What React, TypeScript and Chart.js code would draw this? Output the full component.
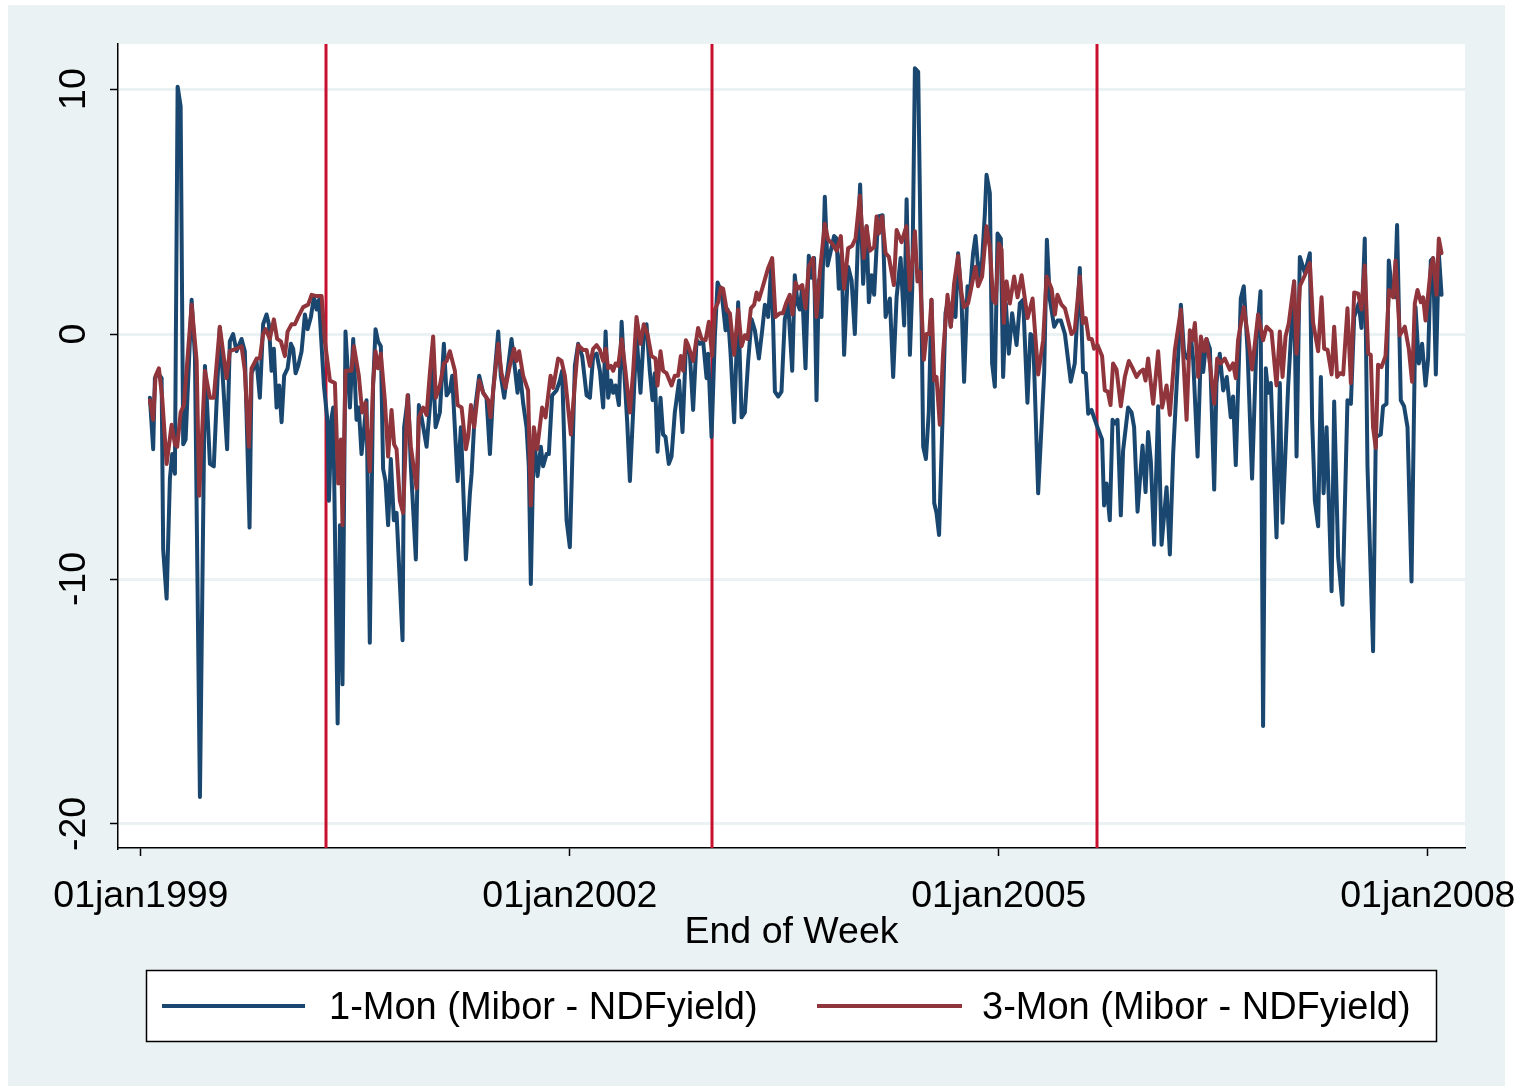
import React, { useEffect, useRef } from 'react';
import { Chart, registerables } from 'chart.js';

Chart.register(...registerables);

// ---------- data (weekly spreads, dates as decimal years) ----------
const tickYears = [1999, 2002, 2005, 2008];
const tickLabels = ['01jan1999', '01jan2002', '01jan2005', '01jan2008'];
const yTicks = [-20, -10, 0, 10];
const breakDates = [2000.294, 2002.993, 2005.685];
const seriesNames = ['1-Mon (Mibor - NDFyield)', '3-Mon (Mibor - NDFyield)'];
const axisTitle = 'End of Week';

const oneMonDates = [
  1999.063, 1999.086, 1999.098, 1999.121, 1999.145, 1999.156, 1999.180, 1999.203, 1999.219, 1999.238,
  1999.257, 1999.278, 1999.296, 1999.313, 1999.355, 1999.378, 1999.413, 1999.448, 1999.459, 1999.483,
  1999.510, 1999.552, 1999.603, 1999.622, 1999.645, 1999.669, 1999.704, 1999.727, 1999.760, 1999.774,
  1999.809, 1999.832, 1999.855, 1999.879, 1999.895, 1999.914, 1999.930, 1999.949, 1999.967, 1999.984,
  2000.002, 2000.026, 2000.049, 2000.065, 2000.082, 2000.100, 2000.124, 2000.147, 2000.166, 2000.189,
  2000.210, 2000.229, 2000.245, 2000.280, 2000.306, 2000.315, 2000.334, 2000.345, 2000.376, 2000.392,
  2000.410, 2000.431, 2000.462, 2000.485, 2000.508, 2000.524, 2000.543, 2000.562, 2000.578, 2000.601,
  2000.624, 2000.641, 2000.659, 2000.678, 2000.694, 2000.711, 2000.729, 2000.748, 2000.769, 2000.788,
  2000.830, 2000.841, 2000.869, 2000.888, 2000.923, 2000.944, 2000.963, 2000.998, 2001.044, 2001.061,
  2001.091, 2001.119, 2001.138, 2001.161, 2001.177, 2001.215, 2001.238, 2001.273, 2001.301, 2001.313,
  2001.336, 2001.366, 2001.394, 2001.417, 2001.441, 2001.464, 2001.499, 2001.517, 2001.541, 2001.569,
  2001.592, 2001.610, 2001.634, 2001.650, 2001.673, 2001.697, 2001.713, 2001.727, 2001.748, 2001.774,
  2001.797, 2001.813, 2001.837, 2001.853, 2001.876, 2001.907, 2001.930, 2001.946, 2001.977, 2002.000,
  2002.035, 2002.058, 2002.086, 2002.117, 2002.140, 2002.163, 2002.187, 2002.210, 2002.233, 2002.250,
  2002.268, 2002.287, 2002.303, 2002.320, 2002.343, 2002.362, 2002.385, 2002.401, 2002.420, 2002.443,
  2002.466, 2002.494, 2002.517, 2002.536, 2002.559, 2002.578, 2002.594, 2002.613, 2002.634, 2002.652,
  2002.669, 2002.692, 2002.711, 2002.734, 2002.764, 2002.788, 2002.811, 2002.839, 2002.862, 2002.886,
  2002.909, 2002.932, 2002.956, 2002.967, 2002.991, 2003.014, 2003.033, 2003.061, 2003.089, 2003.103,
  2003.124, 2003.149, 2003.177, 2003.201, 2003.224, 2003.247, 2003.271, 2003.294, 2003.322, 2003.345,
  2003.364, 2003.387, 2003.410, 2003.434, 2003.457, 2003.480, 2003.503, 2003.527, 2003.555, 2003.573,
  2003.592, 2003.608, 2003.624, 2003.648, 2003.671, 2003.690, 2003.708, 2003.725, 2003.741, 2003.760,
  2003.783, 2003.802, 2003.825, 2003.848, 2003.865, 2003.881, 2003.900, 2003.918, 2003.946, 2003.970,
  2003.993, 2004.016, 2004.030, 2004.051, 2004.075, 2004.091, 2004.110, 2004.128, 2004.156, 2004.187,
  2004.208, 2004.238, 2004.261, 2004.285, 2004.313, 2004.338, 2004.355, 2004.378, 2004.394, 2004.413,
  2004.436, 2004.460, 2004.471, 2004.490, 2004.510, 2004.529, 2004.548, 2004.564, 2004.582, 2004.606,
  2004.627, 2004.645, 2004.664, 2004.680, 2004.697, 2004.715, 2004.739, 2004.757, 2004.781, 2004.797,
  2004.820, 2004.837, 2004.860, 2004.883, 2004.902, 2004.914, 2004.937, 2004.953, 2004.972, 2004.991,
  2005.014, 2005.030, 2005.049, 2005.070, 2005.093, 2005.124, 2005.147, 2005.170, 2005.200, 2005.221,
  2005.240, 2005.275, 2005.317, 2005.336, 2005.357, 2005.387, 2005.410, 2005.434, 2005.462, 2005.503,
  2005.531, 2005.566, 2005.589, 2005.608, 2005.625, 2005.648, 2005.683, 2005.722, 2005.736, 2005.753,
  2005.776, 2005.795, 2005.811, 2005.830, 2005.853, 2005.869, 2005.904, 2005.928, 2005.946, 2005.970,
  2006.005, 2006.026, 2006.044, 2006.063, 2006.086, 2006.114, 2006.138, 2006.173, 2006.196, 2006.219,
  2006.243, 2006.273, 2006.296, 2006.320, 2006.343, 2006.359, 2006.390, 2006.413, 2006.429, 2006.452,
  2006.476, 2006.506, 2006.522, 2006.545, 2006.569, 2006.594, 2006.622, 2006.638, 2006.657, 2006.692,
  2006.713, 2006.739, 2006.771, 2006.802, 2006.830, 2006.848, 2006.867, 2006.883, 2006.902, 2006.942,
  2006.965, 2006.984, 2007.023, 2007.065, 2007.082, 2007.105, 2007.140, 2007.175, 2007.191, 2007.210,
  2007.233, 2007.252, 2007.271, 2007.292, 2007.327, 2007.345, 2007.373, 2007.403, 2007.438, 2007.462,
  2007.485, 2007.517, 2007.536, 2007.559, 2007.578, 2007.617, 2007.636, 2007.671, 2007.687, 2007.711,
  2007.727, 2007.746, 2007.769, 2007.785, 2007.811, 2007.834, 2007.858, 2007.886, 2007.914, 2007.937,
  2007.960, 2007.984, 2008.002, 2008.021, 2008.037, 2008.056, 2008.077, 2008.096,
];
const oneMonValues = [
  -2.6, -4.7, -1.8, -1.6, -1.8, -8.8, -10.8, -5.9, -4.9, -5.7,
  10.1, 9.3, -4.5, -4.3, 1.4, -0.9, -18.9, -1.3, -2.4, -5.3,
  -5.4, 0.25, -4.7, -0.3, 0, -0.7, -0.2, -0.7, -7.9, -1.6,
  -1.1, -2.6, 0.4, 0.8, 0.4, -1.5, -0.6, -3.0, -2.1, -3.6,
  -1.7, -1.4, -0.4, -0.6, -1.6, -1.3, -0.7, 0.8, 0.2, 0.7,
  1.5, 1.0, 1.4, -2.1, -3.6, -6.8, -3.4, -3.0, -15.9, -7.8,
  -14.3, 0.1, -3.0, -0.2, -3.5, -3.0, -4.9, -3.8, -2.7, -12.6,
  -2.1, 0.2, -0.3, -0.5, -5.5, -6.0, -7.8, -5.1, -7.6, -7.3,
  -12.5, -3.8, -2.5, -5.4, -9.2, -2.9, -3.4, -4.6, -1.3, -3.8,
  -3.2, -0.4, -2.5, -2.3, -1.7, -6.0, -3.8, -9.2, -6.5, -5.7,
  -3.1, -1.7, -2.4, -2.6, -4.9, -2.3, 0.1, -1.7, -2.6, -1.3,
  -0.2, -1.1, -2.4, -1.5, -2.8, -3.8, -5.4, -10.2, -4.1, -5.8,
  -4.6, -5.4, -4.9, -4.9, -2.5, -2.3, -1.9, -1.5, -7.6, -8.7,
  -1.3, -0.4, -0.9, -2.5, -2.6, -0.9, -0.8, -1.5, -3.0, 0.1,
  -2.6, -1.9, -2.4, -2.1, -2.9, 0.5, -2.0, -3.6, -6.0, -3.1,
  0, -2.4, 0, 0.4, -1.5, -2.7, -1.6, -4.8, -2.6, -4.1,
  -4.2, -5.3, -5.0, -3.2, -1.9, -4.0, -0.6, -0.8, -3.1, -0.25,
  -0.4, -0.3, -1.8, -0.8, -4.2, -0.1, 2.1, 1.7, 0.15, 1.0,
  -0.8, -3.6, 1.3, -3.4, -3.2, -1.1, 0.6, 0.15, -1.0, 0.15,
  1.2, 0.7, 2.95, -2.35, -2.55, -2.35, 0.6, 1.25, -1.5, 2.4,
  1.25, 1.0, 1.9, -1.4, 3.2, 2.3, 3.1, -2.7, 2.2, 0.7,
  5.6, 2.8, 3.4, 4.0, 3.9, 1.85, 3.3, -0.85, 2.75, 2.2,
  0, 4.1, 6.1, 2.05, 4.4, 1.3, 2.4, 1.6, 4.8, 4.85,
  0.7, 1.45, -1.75, 1.5, 3.1, 0.35, 5.5, -0.85, 1.8, 10.85,
  10.7, 0.55, -4.6, -5.1, -3.2, 1.4, -6.9, -7.3, -8.2, -3.5,
  0.85, 1.4, 0.3, 1.4, 0.7, 3.3, 1.4, -1.95, 1.95, 1.65,
  3.3, 4.0, 2.35, 3.0, 4.9, 6.5, 5.75, -1.2, -2.15, 4.1,
  3.9, -1.75, 1.25, -0.8, 0.85, -0.45, 1.25, 1.4, -2.8, 0,
  -0.1, -6.5, -1.6, 3.85, 1.4, 0.3, 0.55, 0.55, 0, -1.95,
  -1.2, 2.7, -1.55, -1.6, -3.25, -3.1, -3.7, -4.3, -7.0, -6.1,
  -7.6, -3.5, -3.65, -3.5, -7.4, -4.75, -3.0, -3.2, -3.8, -7.25,
  -4.55, -6.45, -4.0, -5.2, -8.6, -2.95, -8.6, -6.25, -9.0, -4.9,
  -2.15, 1.2, -0.8, -1.0, -0.1, -1.05, -5.0, -0.6, -1.55, -0.2,
  -0.6, -6.35, -2.0, -0.8, -2.3, -1.75, -3.4, -2.55, -5.35, 1.45,
  1.95, -0.65, -5.9, -0.25, 1.75, -16.0, -1.4, -2.4, -2.0, -8.3,
  -2.0, -7.7, -2.15, 2.15, -5.0, 3.15, 2.5, 3.3, -3.5, -6.8,
  -7.85, -1.75, -6.5, -3.8, -10.5, -2.75, -9.1, -11.05, -2.7, -2.85,
  0.7, 1.25, 0.25, 3.9, -5.4, -12.95, -4.2, -4.1, -2.95, -2.85,
  3.0, 1.95, 1.5, 4.45, -2.7, -2.95, -3.8, -10.1, 1.1, -1.2,
  -0.4, -2.1, -1.0, 3.0, 3.1, -1.65, 3.3, 1.6,
];

const threeMonDates = [
  1999.063, 1999.086, 1999.103, 1999.126, 1999.149, 1999.180, 1999.215, 1999.238, 1999.254, 1999.278,
  1999.301, 1999.355, 1999.390, 1999.408, 1999.448, 1999.483, 1999.510, 1999.552, 1999.599, 1999.622,
  1999.669, 1999.704, 1999.727, 1999.755, 1999.774, 1999.809, 1999.832, 1999.855, 1999.872, 1999.902,
  1999.930, 1999.953, 1999.979, 2000.007, 2000.026, 2000.054, 2000.077, 2000.100, 2000.135, 2000.170,
  2000.194, 2000.229, 2000.264, 2000.287, 2000.322, 2000.357, 2000.380, 2000.399, 2000.410, 2000.431,
  2000.473, 2000.490, 2000.524, 2000.548, 2000.571, 2000.601, 2000.624, 2000.641, 2000.659, 2000.678,
  2000.706, 2000.729, 2000.753, 2000.771, 2000.788, 2000.811, 2000.834, 2000.865, 2000.888, 2000.928,
  2000.944, 2000.974, 2000.998, 2001.021, 2001.044, 2001.063, 2001.091, 2001.119, 2001.138, 2001.161,
  2001.196, 2001.215, 2001.243, 2001.273, 2001.289, 2001.308, 2001.331, 2001.366, 2001.394, 2001.429,
  2001.445, 2001.464, 2001.499, 2001.522, 2001.550, 2001.580, 2001.610, 2001.627, 2001.645, 2001.673,
  2001.708, 2001.727, 2001.748, 2001.771, 2001.806, 2001.830, 2001.865, 2001.883, 2001.918, 2001.942,
  2001.965, 2002.007, 2002.035, 2002.058, 2002.093, 2002.117, 2002.140, 2002.163, 2002.187, 2002.210,
  2002.233, 2002.250, 2002.268, 2002.287, 2002.303, 2002.320, 2002.338, 2002.362, 2002.385, 2002.420,
  2002.443, 2002.466, 2002.494, 2002.517, 2002.543, 2002.571, 2002.599, 2002.613, 2002.634, 2002.652,
  2002.676, 2002.711, 2002.734, 2002.757, 2002.776, 2002.792, 2002.811, 2002.827, 2002.862, 2002.897,
  2002.921, 2002.949, 2002.972, 2002.995, 2003.014, 2003.037, 2003.056, 2003.072, 2003.096, 2003.119,
  2003.149, 2003.177, 2003.201, 2003.224, 2003.243, 2003.266, 2003.289, 2003.306, 2003.322, 2003.345,
  2003.387, 2003.415, 2003.438, 2003.469, 2003.490, 2003.515, 2003.538, 2003.557, 2003.578, 2003.597,
  2003.625, 2003.648, 2003.671, 2003.701, 2003.725, 2003.748, 2003.783, 2003.806, 2003.834, 2003.865,
  2003.895, 2003.918, 2003.946, 2003.974, 2003.998, 2004.028, 2004.056, 2004.075, 2004.098, 2004.128,
  2004.145, 2004.161, 2004.184, 2004.208, 2004.231, 2004.266, 2004.285, 2004.320, 2004.353, 2004.378,
  2004.413, 2004.431, 2004.448, 2004.476, 2004.494, 2004.513, 2004.529, 2004.548, 2004.564, 2004.587,
  2004.610, 2004.641, 2004.664, 2004.687, 2004.715, 2004.739, 2004.757, 2004.785, 2004.809, 2004.837,
  2004.855, 2004.883, 2004.914, 2004.937, 2004.960, 2004.977, 2005.000, 2005.019, 2005.035, 2005.054,
  2005.077, 2005.107, 2005.131, 2005.159, 2005.201, 2005.236, 2005.275, 2005.310, 2005.334, 2005.369,
  2005.392, 2005.410, 2005.438, 2005.462, 2005.508, 2005.531, 2005.566, 2005.589, 2005.608, 2005.629,
  2005.650, 2005.666, 2005.690, 2005.722, 2005.741, 2005.762, 2005.781, 2005.799, 2005.823, 2005.853,
  2005.881, 2005.909, 2005.932, 2005.963, 2005.986, 2006.009, 2006.026, 2006.044, 2006.079, 2006.114,
  2006.142, 2006.173, 2006.196, 2006.231, 2006.273, 2006.313, 2006.336, 2006.355, 2006.371, 2006.394,
  2006.413, 2006.434, 2006.452, 2006.476, 2006.506, 2006.527, 2006.552, 2006.580, 2006.615, 2006.638,
  2006.657, 2006.673, 2006.713, 2006.743, 2006.771, 2006.813, 2006.848, 2006.872, 2006.907, 2006.942,
  2006.965, 2006.984, 2007.005, 2007.028, 2007.065, 2007.082, 2007.105, 2007.140, 2007.175, 2007.198,
  2007.233, 2007.257, 2007.275, 2007.299, 2007.327, 2007.345, 2007.366, 2007.385, 2007.408, 2007.438,
  2007.462, 2007.485, 2007.513, 2007.536, 2007.559, 2007.583, 2007.601, 2007.617, 2007.636, 2007.652,
  2007.676, 2007.704, 2007.729, 2007.757, 2007.774, 2007.804, 2007.839, 2007.867, 2007.890, 2007.909,
  2007.928, 2007.951, 2007.967, 2007.984, 2008.021, 2008.037, 2008.061, 2008.077, 2008.096,
];
const threeMonValues = [
  -2.7, -3.5, -1.7, -1.4, -2.6, -5.3, -3.7, -4.5, -4.6, -3.2,
  -2.9, 1.2, -1.1, -6.6, -1.5, -2.6, -2.6, 0.3, -1.8, -0.7,
  -0.6, -0.5, -1.5, -4.6, -1.4, -1.0, -1.0, 0, 0.2, -0.2,
  0.6, -0.2, -0.3, -0.9, 0.1, 0.4, 0.4, 0.7, 1.1, 1.2,
  1.6, 1.55, 1.55, -0.3, -1.9, -2.0, -6.1, -4.3, -7.8, -1.5,
  -1.5, -0.5, -1.7, -3.2, -2.8, -5.6, -2.0, -0.7, -1.4, -0.8,
  -2.7, -5.0, -3.1, -4.5, -4.7, -6.8, -7.3, -2.5, -4.6, -6.3,
  -3.4, -3.0, -3.3, -1.6, -0.1, -2.6, -2.1, -1.2, -1.1, -0.7,
  -1.5, -2.9, -3.0, -4.7, -4.2, -2.9, -3.8, -1.9, -2.4, -2.7,
  -3.4, -2.3, -0.4, -1.6, -2.2, -1.3, -0.6, -1.1, -0.7, -1.7,
  -2.3, -7.0, -3.8, -4.7, -3.0, -3.4, -1.7, -2.2, -1.0, -1.1,
  -1.7, -4.1, -2.0, -0.45, -0.65, -0.65, -1.3, -0.6, -0.45, -0.65,
  -1.1, -0.6, -1.4, -1.3, -1.5, -1.2, -1.3, -0.2, -1.3, -3.2,
  -1.5, 0.7, -0.4, 0.4, 0, -0.9, -1.0, -2.1, -0.7, -1.5,
  -1.6, -2.1, -1.7, -1.7, -0.9, -1.5, -0.25, -0.45, -1.1, 0.25,
  -0.2, -0.25, 0.5, -0.9, 1.0, 1.3, 1.9, 1.85, 1.0, 0.85,
  -0.85, 1.0, -0.5, -0.05, -0.2, 1.05, 1.2, 1.7, 1.4, 1.85,
  2.7, 3.1, 0.7, 0.85, 0.85, 1.3, 1.6, 0.8, 2.1, 1.85,
  2.0, 1.05, 2.75, 3.1, 0.7, 2.5, 4.5, 3.85, 3.7, 3.4,
  4.0, 1.85, 3.5, 3.6, 3.9, 5.65, 3.1, 4.4, 3.4, 3.55,
  4.8, 4.1, 4.8, 3.3, 3.15, 2.0, 4.25, 3.75, 4.4, 1.8,
  4.2, 2.15, 2.55, -1.05, 0, 0, 1.4, -1.9, -1.75, -3.7,
  -0.8, 1.6, 0.3, 2.05, 3.2, 1.65, 1.1, 1.25, 1.95, 2.75,
  1.95, 2.35, 4.4, 3.55, 1.4, 1.25, 3.7, 3.45, 0.45, 2.15,
  1.25, 2.35, 1.5, 2.4, 0.65, 1.45, -1.65, -0.25, 2.35, 1.85,
  0.8, 1.6, 1.2, 1.05, 0, 0.15, 2.35, 0.45, 0.65, -0.2,
  -0.2, -0.6, -0.45, -0.9, -2.3, -2.35, -2.9, -1.2, -1.45, -2.95,
  -1.75, -1.1, -1.35, -1.75, -1.55, -1.45, -1.9, -1.0, -2.85, -0.7,
  -3.0, -2.1, -3.3, -0.65, 1.0, -3.5, 0.15, -0.25, 0.45, -1.75,
  -0.1, -0.7, -0.2, -1.2, -2.85, -1.0, -1.2, -1.0, -1.45, -1.2,
  -1.8, -0.25, 1.1, -0.1, -1.45, 0.8, -0.25, 0.3, 0.1, -2.1,
  0.1, -1.75, -0.1, 0.45, 2.15, -0.8, 1.95, 2.4, 2.9, 0.45,
  -0.7, 1.5, -0.6, -0.65, -1.65, 0.3, -1.75, -1.6, -1.65, 1.05,
  -2.0, 1.7, 1.65, 1.0, 2.8, -0.8, -0.85, -3.8, -4.65, -1.25,
  -1.35, -0.9, 1.8, 1.5, 3.0, -0.05, 0.3, -0.6, -1.95, 1.25,
  1.8, 1.3, 1.5, 0.55, 2.7, 3.1, 1.6, 3.9, 3.3,
];

const FONT = '"Liberation Sans", Arial, Helvetica, sans-serif';
const BLUE = '#1a476f';
const RED = '#90353b';
const BREAK = '#c8102e';
const BG = '#eaf2f3';

function toPoints(dates: number[], values: number[]) {
  const n = Math.min(dates.length, values.length);
  const out: { x: number; y: number }[] = [];
  for (let i = 0; i < n; i++) out.push({ x: dates[i], y: values[i] });
  return out;
}

export default function App() {
  const ref = useRef<HTMLCanvasElement | null>(null);

  useEffect(() => {
    document.body.style.margin = '0';
    const canvas = ref.current;
    if (!canvas) return;

    const bgPlugin = {
      id: 'stataBg',
      beforeDraw(chart: any) {
        const c = chart.ctx;
        const a = chart.chartArea;
        c.save();
        c.fillStyle = '#ffffff';
        c.fillRect(0, 0, chart.width, chart.height);
        c.fillStyle = BG;
        c.fillRect(8, 5, 1497, 1081);
        c.fillStyle = '#ffffff';
        c.fillRect(a.left, a.top, a.right - a.left, a.bottom - a.top);
        c.restore();
      },
    };

    const breakPlugin = {
      id: 'breakLines',
      beforeDatasetsDraw(chart: any) {
        const c = chart.ctx;
        const a = chart.chartArea;
        const xs = chart.scales.x;
        c.save();
        c.strokeStyle = BREAK;
        c.lineWidth = 3;
        breakDates.forEach((d) => {
          const px = Math.round(xs.getPixelForValue(d));
          c.beginPath();
          c.moveTo(px, a.top);
          c.lineTo(px, a.bottom);
          c.stroke();
        });
        c.restore();
      },
    };

    const legendPlugin = {
      id: 'stataLegend',
      afterDraw(chart: any) {
        const c = chart.ctx;
        c.save();
        c.fillStyle = '#ffffff';
        c.fillRect(146, 970, 1290, 71);
        c.strokeStyle = '#000000';
        c.lineWidth = 1.5;
        c.strokeRect(146.5, 970.5, 1290, 71);
        const items = [
          { x0: 162, x1: 305, tx: 329, color: BLUE, label: seriesNames[0] },
          { x0: 817, x1: 962, tx: 982, color: RED, label: seriesNames[1] },
        ];
        c.font = `38px ${FONT}`;
        c.textBaseline = 'middle';
        c.textAlign = 'left';
        items.forEach((it) => {
          c.strokeStyle = it.color;
          c.lineWidth = 4;
          c.beginPath();
          c.moveTo(it.x0, 1006);
          c.lineTo(it.x1, 1006);
          c.stroke();
          c.fillStyle = '#000000';
          c.fillText(it.label, it.tx, 1009);
        });
        c.restore();
      },
    };

    const chart = new Chart(canvas, {
      type: 'line',
      data: {
        datasets: [
          {
            label: seriesNames[0],
            data: toPoints(oneMonDates, oneMonValues),
            borderColor: BLUE,
            backgroundColor: BLUE,
            borderWidth: 4,
            pointRadius: 0,
            tension: 0,
            fill: false,
            borderJoinStyle: 'round',
            borderCapStyle: 'round',
            order: 2,
          },
          {
            label: seriesNames[1],
            data: toPoints(threeMonDates, threeMonValues),
            borderColor: RED,
            backgroundColor: RED,
            borderWidth: 4,
            pointRadius: 0,
            tension: 0,
            fill: false,
            borderJoinStyle: 'round',
            borderCapStyle: 'round',
            order: 1,
          },
        ],
      },
      options: {
        animation: false,
        responsive: false,
        devicePixelRatio: 1,
        layout: { padding: { left: 0, top: 44, right: 61, bottom: 141 } },
        plugins: { legend: { display: false }, tooltip: { enabled: false } },
        scales: {
          x: {
            type: 'linear',
            min: 1998.84,
            max: 2008.26,
            afterBuildTicks: (s: any) => {
              s.ticks = tickYears.map((v) => ({ value: v }));
            },
            afterFit: (s: any) => {
              s.height = 100;
              s.paddingLeft = 0;
              s.paddingRight = 0;
            },
            ticks: {
              autoSkip: false,
              maxRotation: 0,
              minRotation: 0,
              padding: 18,
              color: '#000000',
              font: { family: FONT, size: 37.5 },
              callback: (v: any) => {
                const i = tickYears.indexOf(Number(v));
                return i >= 0 ? tickLabels[i] : '';
              },
            },
            grid: {
              drawOnChartArea: false,
              drawTicks: true,
              tickLength: 8,
              tickColor: '#000000',
              tickWidth: 1.5,
            },
            border: { display: true, color: '#000000', width: 1.5 },
            title: {
              display: true,
              text: axisTitle,
              color: '#000000',
              font: { family: FONT, size: 37.5, lineHeight: 1 },
              padding: { top: 0, bottom: -3 },
            },
          },
          y: {
            type: 'linear',
            min: -20.98,
            max: 11.84,
            afterBuildTicks: (s: any) => {
              s.ticks = yTicks.map((v) => ({ value: v }));
            },
            afterFit: (s: any) => {
              s.width = 118;
              s.paddingTop = 0;
              s.paddingBottom = 0;
            },
            ticks: {
              padding: 8,
              minRotation: 90,
              maxRotation: 90,
              crossAlign: 'center',
              color: '#000000',
              font: { family: FONT, size: 37.5 },
              callback: (v: any) => String(v),
            },
            grid: {
              color: BG,
              lineWidth: 3,
              drawTicks: true,
              tickLength: 8,
              tickColor: '#000000',
              tickWidth: 1.5,
            },
            border: { display: true, color: '#000000', width: 1.5 },
          },
        },
      },
      plugins: [bgPlugin, breakPlugin, legendPlugin],
    } as any);

    return () => chart.destroy();
  }, []);

  return (
    <div style={{ position: 'absolute', left: 0, top: 0, width: 1526, height: 1089 }}>
      <canvas ref={ref} width={1526} height={1089} style={{ display: 'block' }} />
    </div>
  );
}
